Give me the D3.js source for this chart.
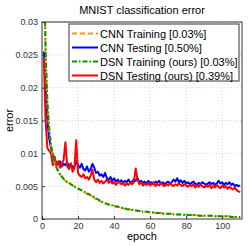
<!DOCTYPE html>
<html>
<head>
<meta charset="UTF-8">
<script src="https://d3js.org/d3.v7.min.js"></script>
<style>
  body { margin: 0; background: #fff; }
  text { font-family: "Liberation Sans", Arial, sans-serif; }
</style>
</head>
<body>
<div id="chart"></div>
<script>
// error values in units of 1e-4, one per epoch (1..110)
var cnnTrain = [420,250,175,135,112,97,86,78,72,68, 64,61,58,56,54,53,51,50,48,47,
  45,43,42,40,38,37,35,34,32,30, 29,28,26,25,24,23,22,21,20,20, 19,18,18,17,16,16,15,15,14,14,
  13,13,12,12,12,11,11,11,10,10, 10,10,9,9,9,9,9,8,8,8, 8,8,8,7,7,7,7,7,7,7,
  6,6,6,6,6,6,6,5,5,5, 5,5,5,5,5,5,4,4,4,4, 4,4,4,4,4,3,3,3,3,3];
var dsnTrain = [430,255,178,137,113,96,87,79,73,68, 65,61,59,56,55,53,51,49,48,46,
  45,44,42,41,39,38,36,36,33,31, 30,28,27,25,24,23,22,21,21,20, 19,19,18,17,17,16,15,15,14,14,
  13,13,13,12,12,11,11,11,11,10, 10,10,10,9,9,9,8,8,8,8, 8,8,7,7,7,7,7,7,6,6,
  6,6,6,6,6,6,5,5,5,5, 5,5,5,5,4,4,4,4,4,4, 4,4,4,4,3,3,3,3,3,3];
var cnnTest = [255,200,150,122,108,98,90,86,84,88, 80,84,82,86,80,84,78,80,88,82,
  78,84,76,74,80,72,76,84,78,70, 72,66,68,64,70,62,60,64,58,62, 57,60,56,59,55,58,56,60,55,57,
  60,58,62,56,58,55,57,54,58,55, 56,53,57,55,58,54,56,53,55,57, 54,56,60,57,62,56,59,55,58,54,
  56,53,55,57,54,52,55,53,56,54, 52,54,56,53,55,52,54,58,54,56, 52,55,53,56,52,54,50,52,50,51];
var dsnTest = [245,150,108,104,100,82,95,80,88,78, 84,90,117,80,76,85,72,78,120,70,
  66,64,68,62,64,60,66,75,60,56, 60,55,58,54,57,60,55,58,54,56, 52,55,57,53,55,51,54,52,55,53,
  56,77,60,53,56,51,54,52,55,51, 53,56,50,53,51,55,52,50,53,51, 54,52,50,53,51,54,52,50,53,51,
  49,52,50,53,48,51,49,53,50,48, 51,49,52,47,50,48,52,49,47,51, 48,50,46,49,47,45,48,44,42,41];

var seriesNames = ["CNN Training  [0.03%]", "CNN Testing  [0.50%]",
  "DSN Training (ours) [0.03%]", "DSN Testing (ours) [0.39%]"];
var xTicks = [0, 20, 40, 60, 80, 100];
var yTicks = [0, 0.005, 0.01, 0.015, 0.02, 0.025, 0.03];

var W = 250, H = 246;
var margin = { top: 22, right: 8, bottom: 27, left: 42 };
var width = W - margin.left - margin.right,
    height = H - margin.top - margin.bottom;

var svg = d3.select("#chart").append("svg")
  .attr("width", W).attr("height", H);
var g = svg.append("g")
  .attr("transform", "translate(" + margin.left + "," + margin.top + ")");

var x = d3.scaleLinear().domain([0, 111]).range([0, width]);
var y = d3.scaleLinear().domain([0, 0.03]).range([height, 0]);

// grid
g.selectAll(".gx").data(xTicks.slice(1)).enter().append("line")
  .attr("x1", d => x(d)).attr("x2", d => x(d))
  .attr("y1", 0).attr("y2", height)
  .attr("stroke", "#c8c8c8").attr("stroke-width", 0.8)
  .attr("stroke-dasharray", "1,2");
g.selectAll(".gy").data(yTicks.slice(1)).enter().append("line")
  .attr("y1", d => y(d)).attr("y2", d => y(d))
  .attr("x1", 0).attr("x2", width)
  .attr("stroke", "#c8c8c8").attr("stroke-width", 0.8)
  .attr("stroke-dasharray", "1,2");

// clip
svg.append("defs").append("clipPath").attr("id", "clip")
  .append("rect").attr("width", width).attr("height", height);

var series = [
  { data: cnnTrain, color: "#ff9900", dash: "5,3" },
  { data: cnnTest, color: "#0000ff", dash: null },
  { data: dsnTrain, color: "#009900", dash: "5,2,1.5,2" },
  { data: dsnTest, color: "#ff0000", dash: null }
];

var line = d3.line()
  .x((d, i) => x(i + 1))
  .y(d => y(d / 10000));

var plot = g.append("g").attr("clip-path", "url(#clip)");
[1, 3, 0, 2].forEach(function (k) {
  var s = series[k];
  plot.append("path")
    .datum(s.data)
    .attr("d", line)
    .attr("fill", "none")
    .attr("stroke", s.color)
    .attr("stroke-width", 2)
    .attr("stroke-linejoin", "round")
    .attr("stroke-dasharray", s.dash);
});

// axes (box)
var xAxis = g.append("g").attr("transform", "translate(0," + height + ")")
  .call(d3.axisBottom(x).tickValues(xTicks).tickSizeInner(-3).tickSizeOuter(0).tickPadding(4));
var yAxis = g.append("g")
  .call(d3.axisLeft(y).tickValues(yTicks).tickFormat(d => d === 0 ? "0" : d3.format("")(+d.toFixed(3)))
    .tickSizeInner(-3).tickSizeOuter(0).tickPadding(4));
[xAxis, yAxis].forEach(function (a) {
  a.selectAll("text").style("font-size", "9px").attr("fill", "#333")
    .style("font-family", "'Liberation Sans', Arial, sans-serif");
  a.selectAll("line").attr("stroke", "#333");
  a.select(".domain").remove();
});
g.append("rect").attr("width", width).attr("height", height)
  .attr("fill", "none").attr("stroke", "#333").attr("stroke-width", 1);

// titles
svg.append("text").attr("x", margin.left + width / 2).attr("y", 14)
  .attr("text-anchor", "middle").style("font-size", "11px")
  .text("MNIST classification error");
svg.append("text").attr("x", margin.left + width / 2).attr("y", 240)
  .attr("text-anchor", "middle").style("font-size", "11px")
  .text("epoch");
svg.append("text").attr("transform", "translate(13," + (margin.top + height / 2) + ") rotate(-90)")
  .attr("text-anchor", "middle").style("font-size", "11px")
  .text("error");

// legend
var lg = svg.append("g").attr("transform", "translate(69,24)");
lg.append("rect").attr("width", 170).attr("height", 57)
  .attr("fill", "#fff").attr("stroke", "#555").attr("stroke-width", 1.2);
seriesNames.forEach(function (name, i) {
  var yy = 9.5 + i * 14;
  lg.append("line").attr("x1", 3).attr("x2", 29).attr("y1", yy).attr("y2", yy)
    .attr("stroke", series[i].color).attr("stroke-width", 2)
    .attr("stroke-dasharray", series[i].dash);
  lg.append("text").attr("x", 31).attr("y", yy + 4)
    .style("font-size", "11px").text(name);
});
</script>
</body>
</html>
